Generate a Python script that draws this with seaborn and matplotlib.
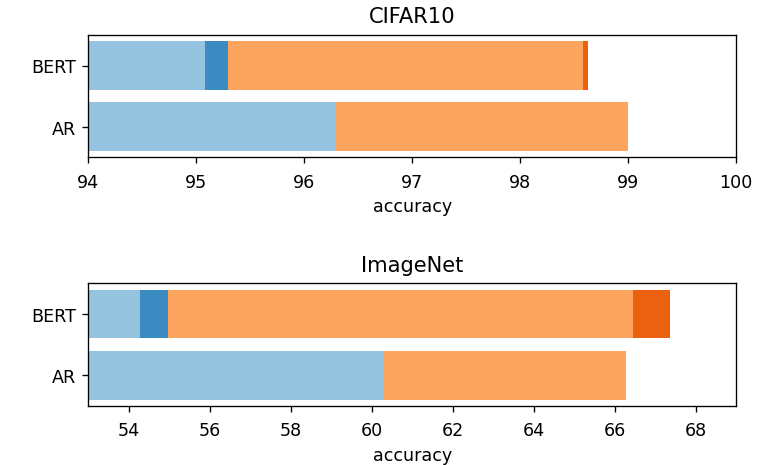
import matplotlib
matplotlib.use("Agg")
import matplotlib.pyplot as plt
import pandas as pd
import seaborn as sns

models = ["BERT", "AR"]

# CIFAR10 accuracy segments (cumulative end points)
cifar_base = [95.08, 96.29]
cifar_step1 = [95.29, 96.29]
cifar_step2 = [98.58, 99.0]
cifar_step3 = [98.63, 99.0]

# ImageNet accuracy segments (cumulative end points)
imnet_base = [54.28, 60.28]
imnet_step1 = [54.98, 60.28]
imnet_step2 = [66.46, 66.28]
imnet_step3 = [67.37, 66.28]

light_blue = "#94c4df"
dark_blue = "#3b8bc2"
light_orange = "#fda45e"
dark_orange = "#eb6110"

plt.rcParams["font.size"] = 10.5
plt.rcParams["axes.titlepad"] = 7.5
plt.rcParams["xtick.major.pad"] = 5.8


def draw(ax, base, step1, step2, step3, title, xlim, xticks):
    df = pd.DataFrame({"model": models, "base": base, "step1": step1,
                       "step2": step2, "step3": step3})
    # longest segment first so shorter ones paint over it
    for col, color in [("step3", dark_orange), ("step2", light_orange),
                       ("step1", dark_blue), ("base", light_blue)]:
        sns.barplot(data=df, x=col, y="model", order=models, color=color,
                    saturation=1, width=0.8, ax=ax)
    ax.set_xlim(*xlim)
    ax.set_xticks(xticks)
    ax.set_xlabel("accuracy")
    ax.set_ylabel("")
    ax.set_title(title)


fig, axes = plt.subplots(2, 1, figsize=(6.45, 3.883), dpi=120)
draw(axes[0], cifar_base, cifar_step1, cifar_step2, cifar_step3,
     "CIFAR10", (94, 100), [94, 95, 96, 97, 98, 99, 100])
draw(axes[1], imnet_base, imnet_step1, imnet_step2, imnet_step3,
     "ImageNet", (53, 69), [54, 56, 58, 60, 62, 64, 66, 68])

fig.subplots_adjust(left=0.114, right=0.951, top=0.923, bottom=0.127, hspace=1.03)
fig.savefig("out.png", dpi=120)
